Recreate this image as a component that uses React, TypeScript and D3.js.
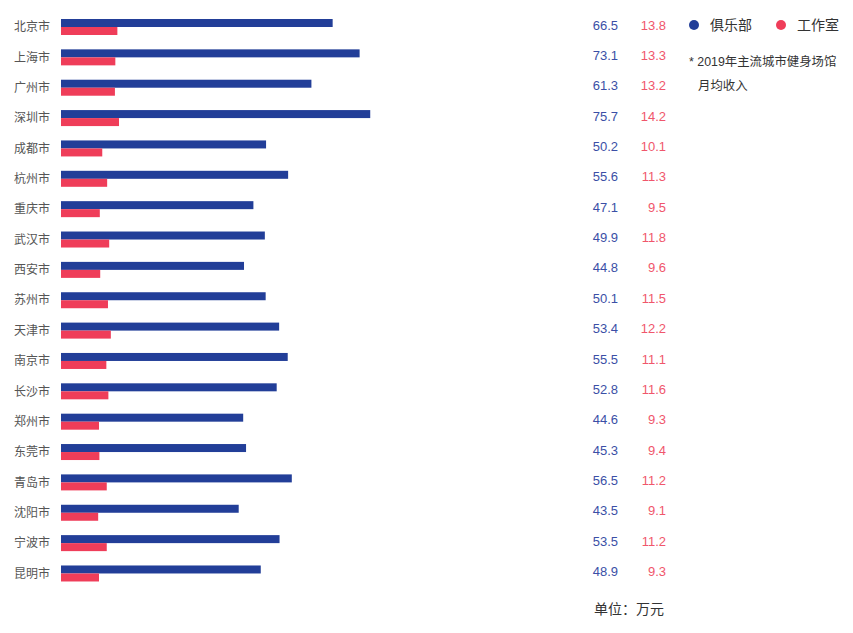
import { useEffect, useRef } from 'react';
import * as d3 from 'd3';

const cities = [
  '北京市', '上海市', '广州市', '深圳市', '成都市', '杭州市', '重庆市', '武汉市', '西安市', '苏州市',
  '天津市', '南京市', '长沙市', '郑州市', '东莞市', '青岛市', '沈阳市', '宁波市', '昆明市',
];
const clubValues = [66.5, 73.1, 61.3, 75.7, 50.2, 55.6, 47.1, 49.9, 44.8, 50.1, 53.4, 55.5, 52.8, 44.6, 45.3, 56.5, 43.5, 53.5, 48.9];
const studioValues = [13.8, 13.3, 13.2, 14.2, 10.1, 11.3, 9.5, 11.8, 9.6, 11.5, 12.2, 11.1, 11.6, 9.3, 9.4, 11.2, 9.1, 11.2, 9.3];
const seriesNames = ['俱乐部', '工作室'];
const noteLines = ['* 2019年主流城市健身场馆', '月均收入'];
const unitLabel = '单位：万元';

const BLUE = '#223e98';
const RED = '#ef3d59';
const BLUE_TEXT = '#3b4fa6';
const RED_TEXT = '#f0566c';
const FONT = '"Helvetica Neue", "Liberation Sans", Arial, "Noto Sans CJK SC", sans-serif';

const W = 853;
const H = 633;

const App = () => {
  const svgRef = useRef<SVGSVGElement>(null);

  useEffect(() => {
    if (!svgRef.current) return;
    const svg = d3.select(svgRef.current);
    svg.selectAll('*').remove();

    const x = d3.scaleLinear().domain([0, 100]).range([61, 469.5]);
    const y = d3
      .scaleBand<string>()
      .domain(cities)
      .range([19, 19 + cities.length * 30.36])
      .padding(0);
    const barH = 8;

    const g = svg.append('g').style('font-family', FONT);

    // bars
    g.selectAll('rect.club')
      .data(cities)
      .join('rect')
      .attr('class', 'club')
      .attr('x', x(0))
      .attr('y', (d) => y(d)!)
      .attr('width', (_, i) => x(clubValues[i]) - x(0))
      .attr('height', barH)
      .attr('fill', BLUE);

    g.selectAll('rect.studio')
      .data(cities)
      .join('rect')
      .attr('class', 'studio')
      .attr('x', x(0))
      .attr('y', (d) => y(d)! + barH)
      .attr('width', (_, i) => x(studioValues[i]) - x(0))
      .attr('height', barH)
      .attr('fill', RED);

    // city labels
    g.selectAll('text.city')
      .data(cities)
      .join('text')
      .attr('class', 'city')
      .attr('x', 50)
      .attr('y', (d) => y(d)! + barH)
      .attr('dy', '0.35em')
      .attr('text-anchor', 'end')
      .attr('font-size', 12)
      .attr('fill', '#555')
      .text((d) => d);

    // value columns
    g.selectAll('text.clubVal')
      .data(cities)
      .join('text')
      .attr('class', 'clubVal')
      .attr('x', 618)
      .attr('y', (d) => y(d)! + barH - 2)
      .attr('dy', '0.35em')
      .attr('text-anchor', 'end')
      .attr('font-size', 13)
      .attr('fill', BLUE_TEXT)
      .text((_, i) => clubValues[i].toFixed(1));

    g.selectAll('text.studioVal')
      .data(cities)
      .join('text')
      .attr('class', 'studioVal')
      .attr('x', 666)
      .attr('y', (d) => y(d)! + barH - 2)
      .attr('dy', '0.35em')
      .attr('text-anchor', 'end')
      .attr('font-size', 13)
      .attr('fill', RED_TEXT)
      .text((_, i) => studioValues[i].toFixed(1));

    // legend
    const legend = g.append('g');
    [BLUE, RED].forEach((c, i) => {
      const lx = 694 + i * 87;
      legend.append('circle').attr('cx', lx).attr('cy', 25).attr('r', 5).attr('fill', c);
      legend
        .append('text')
        .attr('x', lx + 16)
        .attr('y', 25)
        .attr('dy', '0.35em')
        .attr('font-size', 14)
        .attr('fill', '#333')
        .text(seriesNames[i]);
    });

    // note
    g.append('text')
      .attr('x', 689)
      .attr('y', 62)
      .attr('dy', '0.35em')
      .attr('font-size', 12.4)
      .attr('fill', '#333')
      .text(noteLines[0]);
    g.append('text')
      .attr('x', 698)
      .attr('y', 86)
      .attr('dy', '0.35em')
      .attr('font-size', 12.4)
      .attr('fill', '#333')
      .text(noteLines[1]);

    // unit
    g.append('text')
      .attr('x', 594)
      .attr('y', 609)
      .attr('dy', '0.35em')
      .attr('font-size', 14)
      .attr('fill', '#333')
      .text(unitLabel);
  }, []);

  return (
    <svg
      ref={svgRef}
      width={W}
      height={H}
      style={{ position: 'absolute', left: 0, top: 0, background: '#fff' }}
    />
  );
};

export default App;
